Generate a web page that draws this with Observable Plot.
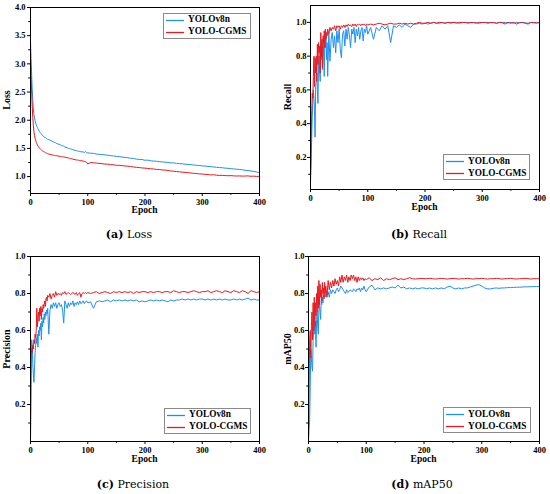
<!DOCTYPE html>
<html><head><meta charset="utf-8">
<script src="https://cdn.jsdelivr.net/npm/d3@7"></script>
<script src="https://cdn.jsdelivr.net/npm/@observablehq/plot@0.6"></script>
<style>
body{margin:0;background:#fff}
#root{position:relative;width:550px;height:494px;background:#fff;overflow:hidden}
.panel{position:absolute}
.panel svg text{font-family:"Liberation Serif","Times New Roman",serif;font-weight:bold}
.lab{position:absolute;font-family:"Liberation Serif","Times New Roman",serif;font-weight:bold;font-size:10px;color:#000;white-space:nowrap;line-height:1}
.ylab{transform:translate(-50%,-50%) rotate(-90deg)}
.xlab{transform:translate(-50%,-50%);font-size:9.5px}
.cap{position:absolute;font-family:"DejaVu Serif",serif;font-size:11px;transform:translate(-50%,-50%);white-space:nowrap;color:#000;line-height:1}
.leg{position:absolute;border:1px solid #8a8a8a;background:#fff;box-sizing:border-box;font-family:"Liberation Serif","Times New Roman",serif;font-weight:bold;font-size:9.3px;color:#000}
.leg svg{position:absolute;left:0;top:0}
.leg .t{position:absolute;left:24px;line-height:1;white-space:nowrap}
</style></head>
<body><div id="root"></div>
<script>
const BLUE = "#1f8ff0", RED = "#e8191e";
const seriesNames = ["YOLOv8n", "YOLO-CGMS"];
const xTicks = [0, 100, 200, 300, 400];
const xMinor = [50, 150, 250, 350];

const epochs = [
 0,1,2,3,4,5,6,7,8,9,10,11,12,13,14,15,16,17,18,19,20,21,22,23,24,25,26,27,28,29,30,
 32,34,36,38,40,42,44,46,48,50,52,54,56,58,60,62,64,66,68,70,72,74,76,78,80,82,84,86,88,90,92,94,96,98,100,
 105,110,115,120,125,130,135,140,145,150,155,160,165,170,175,180,185,190,195,200,
 205,210,215,220,225,230,235,240,245,250,255,260,265,270,275,280,285,290,295,300,
 305,310,315,320,325,330,335,340,345,350,355,360,365,370,375,380,385,390,395,400
];

// (a) Loss
const lossV8 = [
 3.40,3.10,2.80,2.55,2.35,2.20,2.10,2.04,1.99,1.95,1.92,1.89,1.87,1.85,1.83,1.81,1.795,1.78,1.765,1.755,1.745,1.73,1.72,1.715,1.70,1.695,1.69,1.68,1.675,1.67,1.66,
 1.655,1.645,1.64,1.625,1.62,1.605,1.60,1.585,1.58,1.57,1.565,1.55,1.545,1.54,1.525,1.52,1.515,1.50,1.50,1.49,1.485,1.48,1.47,1.465,1.46,1.455,1.45,1.445,1.44,1.44,1.435,1.43,1.445,1.425,1.42,
 1.415,1.412,1.40,1.395,1.392,1.385,1.38,1.372,1.365,1.36,1.355,1.345,1.342,1.335,1.325,1.322,1.31,1.305,1.302,1.29,
 1.292,1.28,1.275,1.272,1.265,1.26,1.257,1.25,1.245,1.242,1.235,1.23,1.227,1.22,1.215,1.213,1.205,1.20,1.197,1.19,
 1.187,1.18,1.176,1.17,1.166,1.16,1.157,1.15,1.147,1.14,1.136,1.13,1.127,1.12,1.112,1.106,1.10,1.092,1.082,1.07
];
const lossCG = [
 3.10,2.80,2.50,2.25,2.05,1.90,1.80,1.73,1.68,1.64,1.61,1.585,1.565,1.545,1.53,1.515,1.50,1.49,1.48,1.47,1.465,1.455,1.45,1.44,1.44,1.43,1.425,1.42,1.415,1.41,1.405,
 1.40,1.395,1.39,1.385,1.38,1.375,1.37,1.37,1.365,1.36,1.36,1.355,1.35,1.35,1.345,1.34,1.335,1.33,1.325,1.32,1.315,1.31,1.305,1.30,1.295,1.295,1.29,1.285,1.28,1.28,1.275,1.27,1.265,1.255,1.225,
 1.25,1.245,1.24,1.232,1.23,1.222,1.22,1.212,1.21,1.20,1.20,1.195,1.188,1.185,1.178,1.17,1.165,1.16,1.153,1.15,
 1.145,1.138,1.135,1.128,1.125,1.118,1.115,1.108,1.10,1.095,1.09,1.085,1.078,1.075,1.068,1.065,1.058,1.055,1.048,1.045,
 1.04,1.035,1.03,1.032,1.025,1.02,1.022,1.018,1.015,1.017,1.013,1.01,1.012,1.008,1.01,1.012,1.005,1.008,1.003,1.005
];

// (b) Recall
const recV8 = [
 0.05,0.15,0.30,0.45,0.52,0.60,0.55,0.48,0.32,0.62,0.65,0.70,0.60,0.52,0.75,0.80,0.70,0.65,0.85,0.78,0.88,0.72,0.90,0.82,0.68,0.90,0.85,0.92,0.78,0.88,0.68,
 0.93,0.77,0.90,0.94,0.85,0.92,0.82,0.95,0.88,0.96,0.84,0.79,0.93,0.95,0.86,0.96,0.90,0.97,0.92,0.85,0.96,0.93,0.97,0.88,0.96,0.92,0.97,0.90,0.95,0.97,0.89,0.96,0.94,0.98,0.93,
 0.97,0.90,0.97,0.95,0.98,0.96,0.98,0.88,0.98,0.97,0.985,0.97,0.99,0.98,0.97,0.99,0.99,0.995,0.99,0.995,
 0.99,0.995,1.0,0.995,0.995,1.0,0.995,1.0,0.995,1.0,1.0,0.995,1.0,0.998,1.0,0.997,1.0,0.998,0.995,1.0,
 0.998,1.0,0.997,1.0,0.995,1.0,0.998,1.0,0.997,1.0,0.995,1.0,0.998,1.0,0.997,0.995,1.0,0.998,1.0,0.997
];
const recCG = [
 0.08,0.25,0.45,0.58,0.55,0.68,0.80,0.62,0.79,0.70,0.80,0.65,0.87,0.75,0.88,0.82,0.86,0.70,0.94,0.80,0.90,0.73,0.92,0.88,0.95,0.85,0.96,0.90,0.94,0.92,0.96,
 0.93,0.97,0.95,0.97,0.96,0.98,0.95,0.98,0.97,0.98,0.96,0.98,0.97,0.985,0.97,0.985,0.975,0.99,0.98,0.985,0.975,0.99,0.98,0.99,0.975,0.99,0.985,0.99,0.98,0.99,0.985,0.99,0.98,0.99,0.985,
 0.99,0.985,0.99,0.995,0.99,0.985,0.99,0.995,0.99,0.99,0.995,0.99,0.995,0.99,0.995,0.99,0.995,1.0,0.995,0.995,
 1.0,0.995,1.0,0.995,1.0,0.998,0.995,1.0,0.998,1.0,0.995,1.0,0.998,1.0,0.995,1.0,0.998,0.995,1.0,0.998,
 1.0,0.995,1.0,0.998,0.995,1.0,0.998,0.99,1.0,0.995,1.0,0.99,0.998,1.0,0.995,0.99,1.0,0.998,0.995,1.0
];

// (c) Precision
const preV8 = [
 0.0,0.35,0.55,0.52,0.42,0.36,0.32,0.40,0.48,0.52,0.56,0.53,0.58,0.51,0.60,0.57,0.62,0.60,0.64,0.55,0.65,0.62,0.67,0.64,0.69,0.66,0.70,0.68,0.71,0.69,0.72,
 0.58,0.71,0.74,0.72,0.75,0.73,0.75,0.72,0.74,0.75,0.73,0.74,0.71,0.64,0.76,0.74,0.72,0.75,0.73,0.75,0.74,0.76,0.73,0.75,0.74,0.755,0.74,0.76,0.745,0.75,0.76,0.745,0.755,0.76,0.75,
 0.755,0.72,0.755,0.76,0.755,0.76,0.765,0.755,0.765,0.76,0.765,0.76,0.765,0.76,0.765,0.76,0.765,0.755,0.76,0.755,
 0.76,0.765,0.76,0.765,0.76,0.765,0.76,0.755,0.765,0.76,0.765,0.765,0.77,0.765,0.77,0.765,0.77,0.765,0.77,0.77,
 0.765,0.77,0.765,0.77,0.765,0.77,0.765,0.77,0.765,0.765,0.77,0.765,0.77,0.765,0.77,0.775,0.765,0.77,0.765,0.765
];
const preCG = [
 0.0,0.45,0.50,0.48,0.52,0.50,0.55,0.53,0.58,0.56,0.60,0.72,0.62,0.68,0.70,0.65,0.72,0.68,0.73,0.66,0.72,0.70,0.74,0.72,0.74,0.76,0.73,0.77,0.78,0.76,0.79,
 0.78,0.80,0.77,0.79,0.80,0.78,0.81,0.79,0.80,0.795,0.80,0.79,0.805,0.80,0.81,0.795,0.80,0.805,0.80,0.795,0.80,0.805,0.80,0.795,0.805,0.79,0.80,0.805,0.78,0.80,0.805,0.80,0.805,0.80,0.805,
 0.80,0.805,0.81,0.80,0.805,0.81,0.805,0.80,0.81,0.805,0.81,0.805,0.81,0.805,0.81,0.80,0.81,0.805,0.81,0.81,
 0.805,0.81,0.805,0.81,0.81,0.805,0.81,0.81,0.805,0.815,0.81,0.805,0.81,0.81,0.805,0.81,0.815,0.81,0.805,0.81,
 0.81,0.815,0.805,0.81,0.815,0.81,0.805,0.815,0.81,0.805,0.815,0.81,0.805,0.815,0.81,0.80,0.815,0.81,0.805,0.81
];

// (d) mAP50
const mapV8 = [
 0.0,0.06,0.12,0.30,0.50,0.45,0.40,0.38,0.55,0.60,0.62,0.58,0.65,0.51,0.66,0.70,0.62,0.58,0.72,0.74,0.70,0.66,0.76,0.74,0.78,0.75,0.79,0.77,0.80,0.78,0.80,
 0.79,0.81,0.78,0.82,0.80,0.82,0.81,0.80,0.82,0.83,0.81,0.82,0.84,0.83,0.82,0.81,0.80,0.82,0.805,0.81,0.82,0.815,0.81,0.825,0.82,0.81,0.825,0.82,0.83,0.81,0.83,0.82,0.84,0.82,0.81,
 0.835,0.845,0.82,0.83,0.825,0.83,0.825,0.83,0.835,0.83,0.845,0.83,0.835,0.825,0.83,0.825,0.83,0.825,0.83,0.83,
 0.825,0.83,0.825,0.83,0.825,0.83,0.825,0.835,0.84,0.83,0.825,0.83,0.825,0.83,0.83,0.835,0.84,0.845,0.848,0.84,
 0.83,0.825,0.825,0.828,0.83,0.828,0.83,0.83,0.832,0.832,0.833,0.834,0.834,0.835,0.836,0.836,0.837,0.837,0.838,0.838
];
const mapCG = [
 0.05,0.30,0.55,0.60,0.45,0.62,0.70,0.55,0.75,0.60,0.78,0.62,0.75,0.68,0.80,0.70,0.84,0.72,0.87,0.74,0.85,0.78,0.82,0.76,0.86,0.80,0.83,0.78,0.86,0.80,0.84,
 0.78,0.87,0.82,0.86,0.83,0.87,0.84,0.88,0.85,0.87,0.84,0.89,0.86,0.90,0.86,0.89,0.87,0.90,0.86,0.89,0.87,0.90,0.88,0.90,0.87,0.89,0.86,0.89,0.87,0.885,0.875,0.885,0.87,0.88,0.875,
 0.885,0.87,0.88,0.875,0.885,0.87,0.88,0.875,0.88,0.885,0.875,0.88,0.875,0.88,0.885,0.88,0.878,0.88,0.882,0.88,
 0.88,0.882,0.88,0.878,0.88,0.882,0.88,0.878,0.88,0.882,0.88,0.878,0.88,0.88,0.882,0.88,0.878,0.88,0.88,0.882,
 0.88,0.878,0.88,0.88,0.882,0.88,0.878,0.88,0.88,0.882,0.88,0.878,0.88,0.88,0.882,0.88,0.878,0.88,0.88,0.88
];

const lossTicks = [1.0,1.5,2.0,2.5,3.0,3.5,4.0];
const lossMinor = [0.75,1.25,1.75,2.25,2.75,3.25,3.75];
const rateTicks = [0.2,0.4,0.6,0.8,1.0];
const rateMinor = [0.1,0.3,0.5,0.7,0.9];

const panels = [
  {v8: lossV8, cg: lossCG, ylabel: "Loss", cap: ["(a)", " Loss"], domain: [0.7, 4.0], ticks: lossTicks, minor: lossMinor,
   left: 0, top: 0, w: 275, h: 220, ml: 30, mr: 16, mt: 7, mb: 27, tp: 2,
   ylx: 7, xly: 211, capx: 129, capy: 234, leg: [163, 12.5, 88, 26]},
  {v8: recV8, cg: recCG, ylabel: "Recall", cap: ["(b)", " Recall"], domain: [0.01, 1.1], ticks: rateTicks, minor: rateMinor,
   left: 275, top: 0, w: 275, h: 220, ml: 35, mr: 11, mt: 5, mb: 31, tp: 1,
   ylx: 288, xly: 207.5, capx: 419, capy: 233.5, leg: [443, 154, 87, 26]},
  {v8: preV8, cg: preCG, ylabel: "Precision", cap: ["(c)", " Precision"], domain: [0, 1.0], ticks: rateTicks, minor: rateMinor,
   left: 0, top: 247, w: 275, h: 220, ml: 30, mr: 16, mt: 9, mb: 26, tp: 2,
   ylx: 7, xly: 459.5, capx: 133, capy: 484, leg: [164, 407.5, 87, 26]},
  {v8: mapV8, cg: mapCG, ylabel: "mAP50", cap: ["(d)", " mAP50"], domain: [0, 1.0], ticks: rateTicks, minor: rateMinor,
   left: 275, top: 247, w: 275, h: 220, ml: 33, mr: 11, mt: 9, mb: 26, tp: 1,
   ylx: 288, xly: 459.5, capx: 422, capy: 484, leg: [443, 407, 88, 26]}
];

const root = document.getElementById("root");

for (const p of panels) {
  const data = epochs.map((e, i) => ({epoch: e, v8: p.v8[i], cg: p.cg[i]}));
  const chart = Plot.plot({
    width: p.w, height: p.h,
    marginLeft: p.ml, marginRight: p.mr, marginTop: p.mt, marginBottom: p.mb,
    style: {fontFamily: "'Liberation Serif', 'Times New Roman', serif", fontSize: "8.5px", fontWeight: "bold", color: "#000", background: "transparent", overflow: "visible"},
    x: {domain: [0, 400]},
    y: {domain: p.domain},
    marks: [
      Plot.line(data, {x: "epoch", y: "v8", stroke: BLUE, strokeWidth: 1}),
      Plot.line(data, {x: "epoch", y: "cg", stroke: RED, strokeWidth: 1}),
      Plot.frame({stroke: "#000", strokeWidth: 1}),
      Plot.axisX({ticks: xTicks, tickSize: 3, tickPadding: 2, tickFormat: d3.format("d"), label: null}),
      Plot.axisX({ticks: xMinor, tickSize: 1.8, tickFormat: () => "", label: null}),
      Plot.axisY({ticks: p.ticks, tickSize: 3, tickPadding: p.tp, tickFormat: d3.format(".1f"), label: null}),
      Plot.axisY({ticks: p.minor, tickSize: 1.8, tickFormat: () => "", label: null})
    ]
  });
  const holder = document.createElement("div");
  holder.className = "panel";
  holder.style.left = p.left + "px";
  holder.style.top = p.top + "px";
  holder.appendChild(chart);
  root.appendChild(holder);

  const yl = document.createElement("div");
  yl.className = "lab ylab";
  yl.textContent = p.ylabel;
  yl.style.left = p.ylx + "px";
  yl.style.top = (p.top + p.mt + (p.h - p.mt - p.mb) / 2) + "px";
  root.appendChild(yl);

  const xl = document.createElement("div");
  xl.className = "lab xlab";
  xl.textContent = "Epoch";
  xl.style.left = (p.left + p.ml + (p.w - p.ml - p.mr) / 2) + "px";
  xl.style.top = p.xly + "px";
  root.appendChild(xl);

  const cap = document.createElement("div");
  cap.className = "cap";
  cap.innerHTML = `<b>${p.cap[0]}</b>${p.cap[1]}`;
  cap.style.left = p.capx + "px";
  cap.style.top = p.capy + "px";
  root.appendChild(cap);

  const leg = document.createElement("div");
  leg.className = "leg";
  leg.style.left = p.leg[0] + "px";
  leg.style.top = p.leg[1] + "px";
  leg.style.width = p.leg[2] + "px";
  leg.style.height = p.leg[3] + "px";
  const ns = "http://www.w3.org/2000/svg";
  const sv = document.createElementNS(ns, "svg");
  sv.setAttribute("width", 24); sv.setAttribute("height", 26);
  [BLUE, RED].forEach((c, i) => {
    const ln = document.createElementNS(ns, "line");
    const yy = 6.5 + i * 12;
    ln.setAttribute("x1", 2); ln.setAttribute("x2", 20);
    ln.setAttribute("y1", yy); ln.setAttribute("y2", yy);
    ln.setAttribute("stroke", c); ln.setAttribute("stroke-width", 1.3);
    sv.appendChild(ln);
    const t = document.createElement("div");
    t.className = "t";
    t.style.top = (yy - 5) + "px";
    t.textContent = seriesNames[i];
    leg.appendChild(t);
  });
  leg.appendChild(sv);
  root.appendChild(leg);
}
</script></body></html>
